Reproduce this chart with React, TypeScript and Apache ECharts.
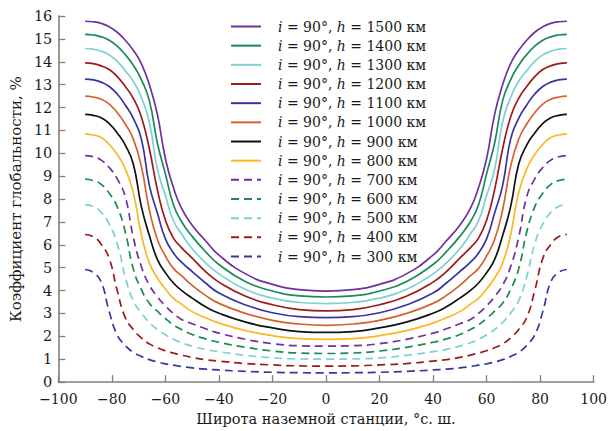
import React, { useEffect, useRef } from 'react';
import * as echarts from 'echarts';

// Latitude of ground station, degrees
const LATS = [-90, -87, -84, -81, -78, -75, -72, -69, -66, -63, -60, -57, -54, -50, -45, -40, -30, -20, -10, 0,
  10, 20, 30, 40, 45, 50, 54, 57, 60, 63, 66, 69, 72, 75, 78, 81, 84, 87, 90];

// Coverage coefficient, % (one array per altitude)
const H1500 = [15.77, 15.75, 15.68, 15.53, 15.29, 14.94, 14.50, 13.92, 13.00, 11.70, 9.76, 8.50, 7.60, 6.86, 6.18, 5.55, 4.73, 4.27, 4.04, 3.98,
  4.04, 4.27, 4.73, 5.55, 6.18, 6.86, 7.60, 8.50, 9.76, 11.70, 13.00, 13.92, 14.50, 14.94, 15.29, 15.53, 15.68, 15.75, 15.77];
const H1400 = [15.20, 15.17, 15.09, 14.94, 14.68, 14.31, 13.85, 13.22, 12.30, 10.45, 9.10, 7.75, 7.02, 6.37, 5.70, 5.14, 4.39, 3.98, 3.77, 3.72,
  3.77, 3.98, 4.39, 5.14, 5.70, 6.37, 7.02, 7.75, 9.10, 10.45, 12.30, 13.22, 13.85, 14.31, 14.68, 14.94, 15.09, 15.17, 15.20];
const H1300 = [14.58, 14.55, 14.46, 14.30, 14.02, 13.61, 13.15, 12.45, 11.37, 9.30, 8.15, 7.05, 6.48, 5.83, 5.21, 4.73, 4.05, 3.67, 3.48, 3.43,
  3.48, 3.67, 4.05, 4.73, 5.21, 5.83, 6.48, 7.05, 8.15, 9.30, 11.37, 12.45, 13.15, 13.61, 14.02, 14.30, 14.46, 14.55, 14.58];
const H1200 = [13.95, 13.92, 13.82, 13.66, 13.35, 12.92, 12.40, 11.60, 10.20, 8.41, 7.07, 6.29, 5.88, 5.42, 4.83, 4.37, 3.75, 3.38, 3.17, 3.11,
  3.17, 3.38, 3.75, 4.37, 4.83, 5.42, 5.88, 6.29, 7.07, 8.41, 10.20, 11.60, 12.40, 12.92, 13.35, 13.66, 13.82, 13.92, 13.95];
const H1100 = [13.24, 13.21, 13.11, 12.92, 12.59, 12.11, 11.53, 10.63, 8.60, 7.39, 6.26, 5.64, 5.24, 4.83, 4.33, 3.89, 3.37, 3.03, 2.86, 2.82,
  2.86, 3.03, 3.37, 3.89, 4.33, 4.83, 5.24, 5.64, 6.26, 7.39, 8.60, 10.63, 11.53, 12.11, 12.59, 12.92, 13.11, 13.21, 13.24];
const H1000 = [12.50, 12.46, 12.36, 12.15, 11.77, 11.28, 10.62, 9.44, 7.53, 6.23, 5.51, 4.97, 4.65, 4.23, 3.79, 3.44, 3.00, 2.70, 2.54, 2.48,
  2.54, 2.70, 3.00, 3.44, 3.79, 4.23, 4.65, 4.97, 5.51, 6.23, 7.53, 9.44, 10.62, 11.28, 11.77, 12.15, 12.36, 12.46, 12.50];
const H900 = [11.70, 11.66, 11.55, 11.30, 10.89, 10.36, 9.53, 7.68, 6.41, 5.36, 4.78, 4.33, 4.01, 3.67, 3.29, 3.01, 2.62, 2.37, 2.21, 2.17,
  2.21, 2.37, 2.62, 3.01, 3.29, 3.67, 4.01, 4.33, 4.78, 5.36, 6.41, 7.68, 9.53, 10.36, 10.89, 11.30, 11.55, 11.66, 11.70];
const H800 = [10.85, 10.80, 10.69, 10.39, 9.95, 9.32, 8.28, 6.45, 5.21, 4.55, 4.07, 3.66, 3.41, 3.08, 2.81, 2.58, 2.25, 2.03, 1.90, 1.87,
  1.90, 2.03, 2.25, 2.58, 2.81, 3.08, 3.41, 3.66, 4.07, 4.55, 5.21, 6.45, 8.28, 9.32, 9.95, 10.39, 10.69, 10.80, 10.85];
const H700 = [9.90, 9.85, 9.70, 9.38, 8.88, 8.10, 6.33, 5.05, 4.24, 3.73, 3.33, 3.00, 2.74, 2.55, 2.33, 2.14, 1.87, 1.68, 1.59, 1.57,
  1.59, 1.68, 1.87, 2.14, 2.33, 2.55, 2.74, 3.00, 3.33, 3.73, 4.24, 5.05, 6.33, 8.10, 8.88, 9.38, 9.70, 9.85, 9.90];
const H600 = [8.87, 8.81, 8.64, 8.25, 7.66, 6.56, 4.95, 4.05, 3.45, 3.10, 2.78, 2.50, 2.30, 2.08, 1.89, 1.74, 1.52, 1.36, 1.27, 1.25,
  1.27, 1.36, 1.52, 1.74, 1.89, 2.08, 2.30, 2.50, 2.78, 3.10, 3.45, 4.05, 4.95, 6.56, 7.66, 8.25, 8.64, 8.81, 8.87];
const H500 = [7.76, 7.68, 7.42, 6.90, 6.05, 4.60, 3.55, 3.02, 2.60, 2.30, 2.07, 1.87, 1.72, 1.57, 1.43, 1.33, 1.17, 1.06, 1.01, 1.00,
  1.01, 1.06, 1.17, 1.33, 1.43, 1.57, 1.72, 1.87, 2.07, 2.30, 2.60, 3.02, 3.55, 4.60, 6.05, 6.90, 7.42, 7.68, 7.76];
const H400 = [6.45, 6.36, 6.02, 5.40, 4.00, 2.82, 2.30, 1.93, 1.67, 1.50, 1.37, 1.27, 1.18, 1.08, 0.98, 0.92, 0.81, 0.75, 0.71, 0.70,
  0.71, 0.75, 0.81, 0.92, 0.98, 1.08, 1.18, 1.27, 1.37, 1.50, 1.67, 1.93, 2.30, 2.82, 4.00, 5.40, 6.02, 6.36, 6.45];
const H300 = [4.92, 4.80, 4.38, 3.08, 2.06, 1.60, 1.30, 1.12, 0.98, 0.88, 0.80, 0.74, 0.68, 0.62, 0.57, 0.53, 0.47, 0.43, 0.41, 0.40,
  0.41, 0.43, 0.47, 0.53, 0.57, 0.62, 0.68, 0.74, 0.80, 0.88, 0.98, 1.12, 1.30, 1.60, 2.06, 3.08, 4.38, 4.80, 4.92];

const ALTITUDES = [1500, 1400, 1300, 1200, 1100, 1000, 900, 800, 700, 600, 500, 400, 300];
const VALUES = [H1500, H1400, H1300, H1200, H1100, H1000, H900, H800, H700, H600, H500, H400, H300];
const COLORS = ['#7030a0', '#1a8a5a', '#7fd0d0', '#9c1a1a', '#3a33a0', '#d4622c', '#111111', '#fdb724',
  '#7030a0', '#1a8a5a', '#7fd0d0', '#9c1a1a', '#3a33a0'];
const DASHED = [false, false, false, false, false, false, false, false, true, true, true, true, true];

const FONT = "'DejaVu Serif'";

export default function App() {
  const ref = useRef<HTMLDivElement>(null);
  useEffect(() => {
    document.body.style.margin = '0';
    const chart = echarts.init(ref.current as HTMLDivElement, null, { renderer: 'svg' });
    const series = ALTITUDES.map((h, k) => ({
      name: 'i = 90°, h = ' + h + ' км',
      type: 'line',
      showSymbol: false,
      symbol: 'none',
      symbolSize: 0,
      smooth: 0.5,
      data: LATS.map((x, i) => [x, VALUES[k][i]]),
      lineStyle: {
        color: COLORS[k],
        width: 1.7,
        type: DASHED[k] ? [8, 5] : 'solid',
      },
      itemStyle: { color: COLORS[k] },
    }));
    chart.setOption({
      animation: false,
      backgroundColor: '#ffffff',
      grid: { left: 54.6, right: 11, top: 16, bottom: 48, containLabel: false },
      legend: {
        orient: 'vertical',
        left: 230,
        top: 17,
        padding: 0,
        itemWidth: 30,
        itemHeight: 14,
        itemGap: 0.17,
        itemStyle: { opacity: 0 },
        data: series.map((s) => s.name),
        formatter: (name: string) => {
          const m = name.match(/h = (\d+)/);
          const h = m ? m[1] : '';
          return '{it|i}{n| = 90°, }{it|h}{n| = ' + h + ' км}';
        },
        textStyle: {
          fontFamily: FONT,
          fontSize: 14,
          color: '#1a1a1a',
          padding: [0, 0, 0, 12],
          lineHeight: 19,
          rich: {
            it: { fontFamily: FONT, fontSize: 14, fontStyle: 'italic', color: '#1a1a1a', lineHeight: 19 },
            n: { fontFamily: FONT, fontSize: 14, color: '#1a1a1a', lineHeight: 19 },
          },
        },
      },
      xAxis: {
        type: 'value',
        min: -100,
        max: 100,
        interval: 20,
        name: 'Широта наземной станции, °с. ш.',
        nameLocation: 'middle',
        nameGap: 28,
        nameTextStyle: { fontFamily: FONT, fontSize: 14.5, color: '#1a1a1a' },
        axisLine: { show: true, onZero: false, lineStyle: { color: '#808080', width: 1.6 } },
        axisTick: { show: true, inside: true, length: 7, lineStyle: { color: '#808080', width: 1.3 } },
        axisLabel: {
          fontFamily: FONT,
          fontSize: 14,
          color: '#1a1a1a',
          margin: 10,
          formatter: (v: number) => String(v).replace('-', '\u2212'),
        },
        splitLine: { show: false },
      },
      yAxis: {
        type: 'value',
        min: 0,
        max: 16,
        interval: 1,
        name: 'Коэффициент глобальности, %',
        nameLocation: 'middle',
        nameGap: 35,
        nameTextStyle: { fontFamily: FONT, fontSize: 15, color: '#1a1a1a' },
        axisLine: { show: true, onZero: false, lineStyle: { color: '#808080', width: 1.6 } },
        axisTick: { show: true, inside: true, length: 7, lineStyle: { color: '#808080', width: 1.3 } },
        axisLabel: { fontFamily: FONT, fontSize: 14.5, color: '#1a1a1a', margin: 6 },
        splitLine: { show: false },
      },
      series,
    });
    return () => chart.dispose();
  }, []);
  return <div ref={ref} style={{ width: 610, height: 431 }} />;
}
